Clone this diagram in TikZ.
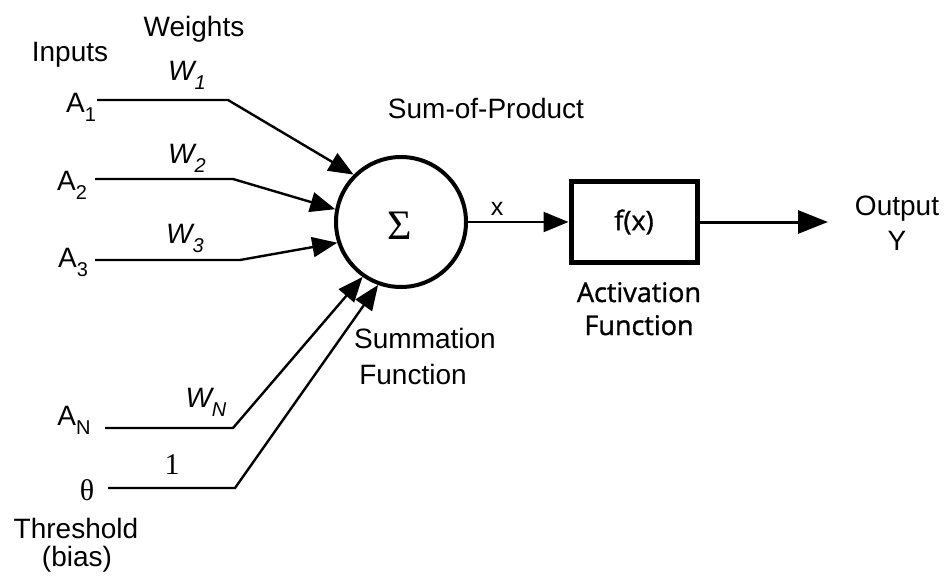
\documentclass[tikz,border=0pt]{standalone}
\usepackage{fontspec}
\setmainfont{Liberation Sans}
\newfontfamily\osans[RawFeature={embolden=1.2}]{Open Sans}
\newfontfamily\lserif{Liberation Serif}
\usetikzlibrary{arrows.meta}
\newcommand\sbs[1]{\raisebox{-0.33em}{\fontsize{20}{22}\selectfont #1}}
\tikzset{
  lbl/.style={anchor=base, inner sep=0pt, font=\fontsize{28}{30}\selectfont},
  alb/.style={anchor=base, inner sep=0pt, font=\osans\fontsize{27}{30}\selectfont},
  wire/.style={line width=2.4pt, -{Triangle[length=25pt,width=20pt]}},
}
\begin{document}
\begin{tikzpicture}[x=1pt,y=-1pt]
\useasboundingbox (0,0) rectangle (944,576);
% main blocks
\node[circle, draw, line width=4pt, minimum size=130pt, inner sep=0pt] (sum) at (401,222) {};
\node[rectangle, draw, line width=5pt, minimum width=126pt, minimum height=81pt, inner sep=0pt,
      font=\osans\fontsize{27}{30}\selectfont] (fbox) at (634,222) {f(x)};
\node[anchor=base, inner sep=0pt, font=\lserif\fontsize{42}{44}\selectfont] (sig) at (400,239) {Σ};
% coordinates
\coordinate (a1s) at (97,100);  \coordinate (a1c) at (228,100);
\coordinate (a2s) at (95,179);  \coordinate (a2c) at (233,179);
\coordinate (a3s) at (95,260);  \coordinate (a3c) at (240,260);
\coordinate (ans) at (105,428); \coordinate (anc) at (233,428);
\coordinate (ths) at (108,488); \coordinate (thc) at (235,488);
\coordinate (outend) at (828,222);
% connectors
\draw[wire] (a1s) -- (a1c) -- (sum.135.6);
\draw[wire] (a2s) -- (a2c) -- (sum.169.4);
\draw[wire] (a3s) -- (a3c) -- (sum.198);
\draw[wire] (ans) -- (anc) -- (sum.235.8);
\draw[wire] (ths) -- (thc) -- (sum.250.5);
\draw[wire] (sum.east) -- (sum.east -| fbox.west);
\draw[line width=3pt, -{Triangle[length=30pt,width=23pt]}] (fbox.east) -- (outend);
% labels
\node[lbl] (tinp) at (70,61) {Inputs};
\node[lbl] (twts) at (194,36) {Weights};
\node[lbl] (ta1) at (81,112) {A\sbs{1}};
\node[lbl] (ta2) at (72,190) {A\sbs{2}};
\node[lbl] (ta3) at (73,267) {A\sbs{3}};
\node[lbl] (tan) at (74,425) {A\sbs{N}};
\node[lbl] (tw1) at (187,80) {\itshape W\sbs{1}};
\node[lbl] (tw2) at (187,163) {\itshape W\sbs{2}};
\node[lbl] (tw3) at (185,243) {\itshape W\sbs{3}};
\node[lbl] (twn) at (206,407) {\itshape W\sbs{N}};
\node[anchor=base, inner sep=0pt, font=\lserif\fontsize{30}{32}\selectfont] (tone) at (172,474) {1};
\node[anchor=base, inner sep=0pt, font=\lserif\fontsize{30}{32}\selectfont] (tth) at (87,500) {θ};
\node[lbl] (tthr) at (76,538) {Threshold};
\node[lbl] (tbias) at (77,566) {(bias)};
\node[lbl] (tsop) at (486,118) {Sum-of-Product};
\node[anchor=base, inner sep=0pt, font=\fontsize{25}{27}\selectfont] (tx) at (497,215) {x};
\node[lbl] (tsum) at (425,348) {Summation};
\node[lbl] (tsf) at (413,384) {Function};
\node[alb] (tact) at (639,302) {Activation};
\node[alb] (taf) at (639,335) {Function};
\node[lbl] (tout) at (897,215) {Output};
\node[lbl] (ty) at (897,250) {Y};
\end{tikzpicture}
\end{document}
